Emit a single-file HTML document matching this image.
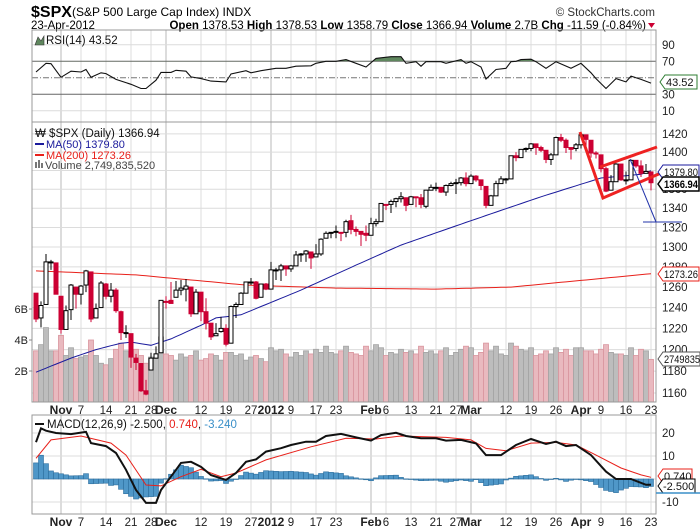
<!DOCTYPE html>
<html><head><meta charset="utf-8"><style>
html,body{margin:0;padding:0;background:#fff;}
svg{display:block;font-family:"Liberation Sans",sans-serif;}
</style></head><body>
<svg id="chart" width="700" height="530" viewBox="0 0 700 530" xmlns="http://www.w3.org/2000/svg">
<g>
<text x="31" y="17" font-size="16" font-weight="bold">$SPX</text>
<text x="72" y="16" font-size="12">(S&amp;P 500 Large Cap Index) INDX</text>
<text x="655" y="16" font-size="11.5" fill="#333" text-anchor="end">© StockCharts.com</text>
<text x="31" y="29" font-size="11.5">23-Apr-2012</text>
<text x="646" y="29" font-size="11.5" text-anchor="end"><tspan font-weight="bold">Open</tspan> 1378.53 <tspan font-weight="bold">High</tspan> 1378.53 <tspan font-weight="bold">Low</tspan> 1358.79 <tspan font-weight="bold">Close</tspan> 1366.94 <tspan font-weight="bold">Volume</tspan> 2.7B <tspan font-weight="bold">Chg</tspan> -11.59 (-0.84%)</text>
<path d="M648,23 L655,23 L651.5,28 Z" fill="#c03"/>
</g>
<g id="grid"></g>
<g id="rsi"></g>
<g id="main"></g>
<g id="macd"></g>
<g id="frames"></g>
<g id="labels"></g>
</svg>
<script>
// ---- DATA ----
const dates = ["Oct25","Oct26","Oct27","Oct28","Oct31","Nov1","Nov2","Nov3","Nov4","Nov7","Nov8","Nov9","Nov10","Nov11","Nov14","Nov15","Nov16","Nov17","Nov18","Nov21","Nov22","Nov23","Nov25","Nov28","Nov29","Nov30","Dec1","Dec2","Dec5","Dec6","Dec7","Dec8","Dec9","Dec12","Dec13","Dec14","Dec15","Dec16","Dec19","Dec20","Dec21","Dec22","Dec23","Dec27","Dec28","Dec29","Dec30","Jan3","Jan4","Jan5","Jan6","Jan9","Jan10","Jan11","Jan12","Jan13","Jan17","Jan18","Jan19","Jan20","Jan23","Jan24","Jan25","Jan26","Jan27","Jan30","Jan31","Feb1","Feb2","Feb3","Feb6","Feb7","Feb8","Feb9","Feb10","Feb13","Feb14","Feb15","Feb16","Feb17","Feb21","Feb22","Feb23","Feb24","Feb27","Feb28","Feb29","Mar1","Mar2","Mar5","Mar6","Mar7","Mar8","Mar9","Mar12","Mar13","Mar14","Mar15","Mar16","Mar19","Mar20","Mar21","Mar22","Mar23","Mar26","Mar27","Mar28","Mar29","Mar30","Apr2","Apr3","Apr4","Apr5","Apr9","Apr10","Apr11","Apr12","Apr13","Apr16","Apr17","Apr18","Apr19","Apr20","Apr23"];
const opens = [1254,1230,1243,1284,1284,1251,1219,1238,1260,1253,1262,1275,1230,1240,1263,1251,1257,1236,1216,1215,1192,1187,1162,1181,1192,1197,1246,1247,1250,1257,1258,1260,1234,1255,1236,1225,1213,1217,1220,1206,1241,1243,1254,1265,1265,1250,1263,1258,1277,1277,1281,1278,1281,1292,1293,1295,1290,1293,1309,1314,1315,1315,1315,1327,1318,1316,1314,1312,1324,1326,1344,1344,1347,1350,1351,1344,1352,1351,1342,1359,1362,1362,1357,1364,1366,1367,1372,1366,1374,1370,1363,1343,1353,1366,1371,1371,1396,1394,1403,1404,1409,1405,1402,1392,1397,1416,1413,1405,1404,1408,1419,1413,1399,1397,1382,1359,1368,1387,1370,1370,1391,1385,1377,1378.5];
const highs = [1254,1246,1293,1287,1284,1251,1242,1263,1260,1262,1277,1275,1244,1266,1264,1264,1259,1237,1223,1215,1196,1187,1172,1197,1203,1247,1251,1265,1266,1267,1268,1260,1258,1255,1249,1225,1225,1231,1224,1242,1245,1255,1265,1269,1266,1263,1264,1285,1279,1283,1281,1282,1296,1294,1297,1295,1303,1309,1316,1315,1322,1315,1328,1333,1321,1316,1322,1330,1329,1345,1344,1349,1351,1357,1351,1353,1352,1355,1359,1365,1367,1362,1365,1368,1371,1373,1378,1376,1375,1370,1363,1354,1369,1374,1372,1396,1400,1403,1405,1410,1409,1407,1402,1399,1417,1420,1415,1405,1410,1422,1419,1413,1401,1397,1384,1375,1388,1387,1379,1392,1391,1391,1387,1378.5];
const lows = [1226,1221,1243,1277,1253,1215,1219,1228,1239,1243,1255,1226,1230,1240,1248,1245,1235,1209,1211,1183,1181,1161,1158,1181,1192,1197,1239,1244,1250,1252,1246,1231,1234,1227,1219,1209,1213,1216,1203,1206,1230,1243,1254,1262,1248,1250,1257,1258,1267,1266,1271,1275,1281,1285,1285,1278,1290,1291,1309,1309,1309,1306,1310,1313,1311,1301,1306,1312,1321,1326,1338,1335,1341,1346,1337,1344,1341,1340,1340,1359,1358,1356,1353,1363,1355,1364,1363,1366,1368,1359,1340,1343,1353,1366,1366,1371,1390,1394,1400,1401,1397,1400,1388,1386,1397,1411,1399,1392,1401,1404,1405,1394,1393,1378,1357,1359,1368,1369,1365,1370,1383,1373,1377,1358.8];
const closes = [1229,1242,1285,1285,1253,1219,1237,1262,1253,1261,1276,1229,1239,1264,1251,1257,1237,1216,1216,1193,1188,1162,1159,1192,1196,1247,1245,1244,1257,1259,1261,1234,1255,1236,1225,1212,1215,1220,1205,1241,1243,1254,1265,1265,1249,1263,1258,1277,1277,1281,1278,1281,1292,1293,1296,1289,1293,1308,1314,1315,1316,1315,1326,1318,1316,1313,1312,1324,1326,1345,1344,1347,1350,1352,1343,1352,1351,1344,1359,1362,1362,1357,1364,1366,1367,1372,1366,1374,1370,1364,1343,1353,1366,1371,1371,1396,1394,1403,1404,1409,1405,1402,1392,1397,1416,1413,1405,1403,1408,1419,1414,1399,1398,1382,1358,1368,1387,1370,1370,1391,1385,1377,1379,1366.94];
const volumes = [3.3,3.7,4.8,3.3,3.3,4.3,3.0,3.5,2.8,2.9,3.0,4.0,3.0,2.5,2.4,2.8,3.4,3.8,3.3,3.0,3.4,3.0,2.5,2.9,2.8,4.2,3.1,3.0,2.7,3.1,2.9,3.0,3.3,2.7,2.8,3.1,3.0,2.7,3.2,3.2,3.0,3.1,2.7,2.9,3.0,2.8,2.6,3.5,3.3,3.4,3.1,2.9,3.2,3.0,3.3,3.1,3.4,3.2,3.6,3.2,3.1,3.3,3.6,3.2,3.1,3.0,3.6,3.3,3.7,3.5,3.0,3.2,3.1,3.4,3.2,3.3,3.1,3.6,3.2,3.3,3.1,3.3,3.5,3.0,3.2,3.4,3.6,3.5,3.0,3.2,3.8,3.3,3.6,3.1,3.0,3.8,3.6,3.4,3.3,3.5,3.0,3.1,3.3,3.1,3.5,3.2,3.4,3.0,3.5,3.5,3.3,3.3,3.1,3.4,3.7,3.2,3.1,3.1,3.0,3.5,3.0,3.4,3.3,2.75];
const rsiDays = [0,2,3,5,7,9,10,11,13,14,16,19,21,22,24,25,27,28,30,31,33,35,38,39,42,43,45,48,50,52,55,56,58,60,62,64,66,68,71,73,74,76,77,78,81,82,85,86,87,89,90,92,94,95,96,97,99,100,102,104,107,109,111,112,114,116,118,119,121,123];
const rsiValues = [57,67.5,67,50.5,58,57,60,50.5,56,55,48,42,37,37,47,56.5,56.5,59,58,51,49,46,45,54.5,58.5,56,58.5,61.5,61.5,64,64.5,67.5,70,70,72,67.5,63,73.5,75.5,75.5,67.5,69.5,64,69.5,69.5,67.5,72,67.5,69.5,63,48.5,60,61.5,69.5,70,72,72.5,69.5,61.5,69.5,61.5,67.5,56,49,37,49,45,52,48,43.52];
const ma50Days = [0,7,12,17,19,23,27,33,36,41,53,73,87,101,113,121,123];
const ma50Values = [1179,1192,1200,1206,1207,1204,1210,1223,1230,1233,1257,1302,1327,1352,1372,1376,1379.8];
const ma200Days = [0,20,42,60,80,95,110,123];
const ma200Values = [1276,1272,1262,1259,1258,1260,1267,1273.26];
const macdDays = [0,1,2,4,7,10,11,14,16,18,20,22,24,25,28,29,31,33,35,38,40,42,44,46,49,51,54,56,58,61,64,67,69,72,74,77,80,82,85,88,90,93,96,99,102,104,106,108,111,114,116,119,122,123];
const macdValues = [16,22,21,20,19.5,20.5,15.6,14.3,11.3,4,-4.8,-10.4,-10.4,-4.8,4,7,7.5,5.3,1.7,-0.4,2.6,7.5,8.5,11.9,13.4,14.8,16.2,16.2,18.7,19.6,18.1,16.7,19.1,20.1,18.7,17.7,17.7,16.7,17,15.5,10.4,10.4,14.8,17.4,15.2,16.2,14.3,14.8,10.4,3.2,0,0,-2.5,-2.5];
const signalDays = [0,3,9,15,18,22,25,29,33,37,40,46,55,62,68,73,82,87,90,94,99,104,108,112,117,121,123];
const signalValues = [9,17,18.7,15.6,10.4,-2.6,-3,1,4.2,1,2.6,8.3,14,17.7,17.4,18.7,18.1,17,13.3,12.3,15.6,15.9,14.8,10.4,4.8,1.8,0.74];
const priceTicks = [1160,1180,1200,1220,1240,1260,1280,1300,1320,1340,1360,1380,1400,1420];
const rsiTicks = [10,30,50,70,90];
const macdTicks = [-10,0,10,20];
const volTicks = [2,4,6];
const xLabels = [["Nov1","Nov",1],["Nov7","7",0],["Nov14","14",0],["Nov21","21",0],["Nov28","28",0],["Dec1","Dec",1],["Dec12","12",0],["Dec19","19",0],["Dec27","27",0],["Jan3","2012",1],["Jan9","9",0],["Jan17","17",0],["Jan23","23",0],["Feb1","Feb",1],["Feb6","6",0],["Feb13","13",0],["Feb21","21",0],["Feb27","27",0],["Mar1","Mar",1],["Mar12","12",0],["Mar19","19",0],["Mar26","26",0],["Apr2","Apr",1],["Apr9","9",0],["Apr16","16",0],["Apr23","23",0]];

// ---- LAYOUT ----
const L=32,R=656;
const RSI_T=30,RSI_B=122,MAIN_T=122,MAIN_B=402,MACD_T=415,MACD_B=514;
const NS="http://www.w3.org/2000/svg";
function mk(tag,attrs,parent){const e=document.createElementNS(NS,tag);for(const k in attrs)e.setAttribute(k,attrs[k]);parent.appendChild(e);return e;}
const xS=i=>36+i*5;
const yP=p=>393-1281*Math.log(p/1160);
const yR=v=>119-0.825*v;
const yM=v=>479-2.3*v;
const yV=v=>MAIN_B-v*15.5;
function interp(days,vals,i){for(let k=0;k<days.length-1;k++){if(i>=days[k]&&i<=days[k+1]){const t=(i-days[k])/(days[k+1]-days[k]);return vals[k]+t*(vals[k+1]-vals[k]);}}return vals[vals.length-1];}
function pathFrom(days,vals,fx,fy){return days.map((d,k)=>(k?"L":"M")+fx(d).toFixed(1)+","+fy(vals[k]).toFixed(1)).join("");}

const grid=document.getElementById('grid');
const rsiG=document.getElementById('rsi');
const mainG=document.getElementById('main');
const macdG=document.getElementById('macd');
const frames=document.getElementById('frames');
const labels=document.getElementById('labels');

xLabels.forEach(lb=>{const i=dates.indexOf(lb[0]);const x=xS(i);
 [[RSI_T,RSI_B],[MAIN_T,MAIN_B],[MACD_T,MACD_B]].forEach(p=>{
  const ln=mk('line',{x1:x,x2:x,y1:p[0],y2:p[1],stroke:lb[2]?'#b8b8b8':'#dcdcdc','stroke-width':1},grid);
  
  
 });
 [410,522].forEach(yy=>{
  const t=mk('text',{x:x,y:yy+4,'font-size':lb[2]?12:11.5,'font-weight':lb[2]?'bold':'normal','text-anchor':'middle',fill:'#222'},labels);
  t.textContent=lb[1];
  
  
 });
});
priceTicks.forEach(p=>{const y=yP(p);
 const ln=mk('line',{x1:L,x2:R,y1:y,y2:y,stroke:'#dcdcdc'},grid);
 
 
 const t=mk('text',{x:R+6,y:y+4,'font-size':11.5,fill:'#222'},labels);t.textContent=p;
 
 
});
volTicks.forEach(v=>{const y=yV(v);
 const t=mk('text',{x:L-4,y:y+4,'font-size':11,'text-anchor':'end',fill:'#222'},labels);t.textContent=v+'B';
 
 
 const tk=mk('line',{x1:L-3,x2:L,y1:y,y2:y,stroke:'#888'},labels);
 
 
});
rsiTicks.forEach(v=>{const y=yR(v);
 const strong=(v===70||v===30);
 const ln=mk('line',{x1:L,x2:R,y1:y,y2:y,stroke:strong?'#666':(v===50?'#777':'#dcdcdc'),'stroke-dasharray':v===50?'6,2,1,2':'none'},grid);
 
 
 if(v!==50){const t=mk('text',{x:R+6,y:y+4,'font-size':11.5,fill:'#222'},labels);t.textContent=v;
 
 }
});
macdTicks.forEach(v=>{const y=yM(v);
 const ln=mk('line',{x1:L,x2:R,y1:y,y2:y,stroke:'#dcdcdc'},grid);
 
 
 if(v!==0){const t=mk('text',{x:R+6,y:y+4,'font-size':11.5,fill:'#222'},labels);t.textContent=v;
 
 }
});

(function(){
 const cp=mk('clipPath',{id:'ob'},rsiG);mk('rect',{x:L,y:RSI_T,width:R-L,height:yR(70)-RSI_T},cp);
 const areaD=pathFrom(rsiDays,rsiValues,xS,yR)+"L"+xS(rsiDays[rsiDays.length-1])+","+yR(70)+"L"+xS(rsiDays[0])+","+yR(70)+"Z";
 const a=mk('path',{d:areaD,fill:'#5f875e','clip-path':'url(#ob)'},rsiG);
 
 
 const p=mk('path',{d:pathFrom(rsiDays,rsiValues,xS,yR),fill:'none',stroke:'#111','stroke-width':1.1},rsiG);
 
 
})();

closes.forEach((c,i)=>{const down=i>0?c<closes[i-1]:c<opens[i];
 const y=yV(volumes[i]);
 const b=mk('rect',{x:xS(i)-2.5,y:y,width:5,height:MAIN_B-y,fill:down?'#e9b9bf':'#bdbdbd',stroke:down?'#d9959e':'#a3a3a3','stroke-width':0.8},mainG);
 
 
});
(function(){
 const d200=[];for(let i=0;i<closes.length;i++)d200.push(i);
 const p2=mk('path',{d:pathFrom(d200,d200.map(i=>interp(ma200Days,ma200Values,i)),xS,yP),fill:'none',stroke:'#e8201a','stroke-width':1},mainG);
 
 
 const p1=mk('path',{d:pathFrom(d200,d200.map(i=>interp(ma50Days,ma50Values,i)),xS,yP),fill:'none',stroke:'#1a1a9c','stroke-width':1},mainG);
 
 
})();
closes.forEach((c,i)=>{const o=opens[i];const prev=i>0?closes[i-1]:o;
 const red=c<prev;const filled=c<o;const col=red?'#cc0033':'#000';const x=xS(i);
 const w=mk('line',{x1:x,x2:x,y1:yP(highs[i]),y2:yP(lows[i]),stroke:col,'stroke-width':1},mainG);
 
 
 const top=yP(Math.max(o,c)),bot=yP(Math.min(o,c));
 const r=mk('rect',{x:x-2,y:top,width:4,height:Math.max(1,bot-top),fill:filled?col:'#fff',stroke:col,'stroke-width':1},mainG);
 
 
});
(function(){
 for(let i=0;i<closes.length;i++){const h=interp(macdDays,macdValues,i)-interp(signalDays,signalValues,i);
  const y0=yM(0),y1=yM(h);
  const b=mk('rect',{x:xS(i)-2.5,y:Math.min(y0,y1),width:5,height:Math.max(0.5,Math.abs(y1-y0)),fill:'#4f97c8',stroke:'#2e6f9e','stroke-width':0.6},macdG);
  
  
 }
 const cp=mk('clipPath',{id:'mc'},macdG);mk('rect',{x:L,y:MACD_T,width:R-L,height:MACD_B-MACD_T},cp);
 const s=mk('path',{d:pathFrom(signalDays,signalValues,xS,yM),fill:'none',stroke:'#e8201a','stroke-width':1,'clip-path':'url(#mc)'},macdG);
 
 
 const m=mk('path',{d:pathFrom(macdDays,macdValues,xS,yM),fill:'none',stroke:'#111','stroke-width':2,'clip-path':'url(#mc)'},macdG);
 
 
})();

[[RSI_T,RSI_B],[MAIN_T,MAIN_B],[MACD_T,MACD_B]].forEach(p=>{
 const f=mk('rect',{x:L,y:p[0],width:R-L,height:p[1]-p[0],fill:'none',stroke:'#999'},frames);
 
 
});
</script>
<svg width="700" height="530" style="position:absolute;left:0;top:0" xmlns="http://www.w3.org/2000/svg" font-family="Liberation Sans, sans-serif">
<g>
<polyline points="580,132 603,198 668,170" fill="none" stroke="#ee2222" stroke-width="3"/>
<line x1="600" y1="167" x2="657" y2="147" stroke="#ee2222" stroke-width="3"/>
<line x1="630" y1="159" x2="656" y2="222" stroke="#2233aa" stroke-width="1"/>
<line x1="643" y1="222" x2="682" y2="222" stroke="#2233aa" stroke-width="1"/>
</g>
<g>
<path d="M35,45 L38,37 L41,41 L44,36 L44,45 Z" fill="#5f875e" stroke="#333" stroke-width="0.6"/>
<text x="46" y="44" font-size="11.5" fill="#111">RSI(14) 43.52</text>
</g>
<g>
<text x="35" y="137" font-size="11.5" fill="#111">₩ $SPX (Daily) 1366.94</text>
<line x1="35" y1="144" x2="44" y2="144" stroke="#1a1a9c" stroke-width="2"/>
<text x="46" y="148" font-size="11" fill="#1a1a9c">MA(50) 1379.80</text>
<line x1="35" y1="155" x2="44" y2="155" stroke="#e8201a" stroke-width="2"/>
<text x="46" y="159" font-size="11" fill="#e8201a">MA(200) 1273.26</text>
<rect x="35" y="162" width="2" height="6" fill="#777"/><rect x="38" y="160" width="2" height="8" fill="#777"/><rect x="41" y="163" width="2" height="5" fill="#777"/>
<text x="45" y="169" font-size="11" fill="#444">Volume 2,749,835,520</text>
</g>
<g>
<line x1="35" y1="424" x2="44" y2="424" stroke="#111" stroke-width="2"/>
<text x="47" y="428" font-size="11.5" fill="#111">MACD(12,26,9) -2.500, <tspan fill="#e8201a">0.740</tspan>, <tspan fill="#3a8fc8">-3.240</tspan></text>
</g>
<g>
<path d="M660,82 L665,75 L697,75 L697,89 L665,89 Z" fill="#fff" stroke="#2e7d32"/>
<text x="666" y="86" font-size="11" fill="#111">43.52</text>
<path d="M658,172 L663,165 L699,165 L699,179 L663,179 Z" fill="#fff" stroke="#1a1a9c"/>
<text x="664" y="176" font-size="11" fill="#111" textLength="34" lengthAdjust="spacingAndGlyphs">1379.80</text>
<path d="M658,184 L663,177 L699,177 L699,191 L663,191 Z" fill="#fff" stroke="#000" stroke-width="1.5"/>
<text x="664" y="188" font-size="11" font-weight="bold" fill="#000" textLength="34" lengthAdjust="spacingAndGlyphs">1366.94</text>
<path d="M658,274 L663,267 L699,267 L699,281 L663,281 Z" fill="#fff" stroke="#e8201a"/>
<text x="664" y="278" font-size="11" fill="#111" textLength="34" lengthAdjust="spacingAndGlyphs">1273.26</text>
<path d="M658,359 L663,352 L700,352 L700,366 L663,366 Z" fill="#fff" stroke="#555"/>
<text x="664" y="363" font-size="11" fill="#111" textLength="36" lengthAdjust="spacingAndGlyphs">2749835</text>
<path d="M658,476 L663,469 L692,469 L692,483 L663,483 Z" fill="#fff" stroke="#e8201a"/>
<text x="664" y="480" font-size="11" fill="#111">0.740</text>
<path d="M658,486 L663,479 L695,479 L695,493 L663,493 Z" fill="#fff" stroke="#000"/>
<text x="663" y="490" font-size="11" fill="#111">-2.500</text>
<line x1="656" y1="493" x2="700" y2="493" stroke="#3a8fc8" stroke-width="1.5"/>
</g>
</svg>
</body></html>
